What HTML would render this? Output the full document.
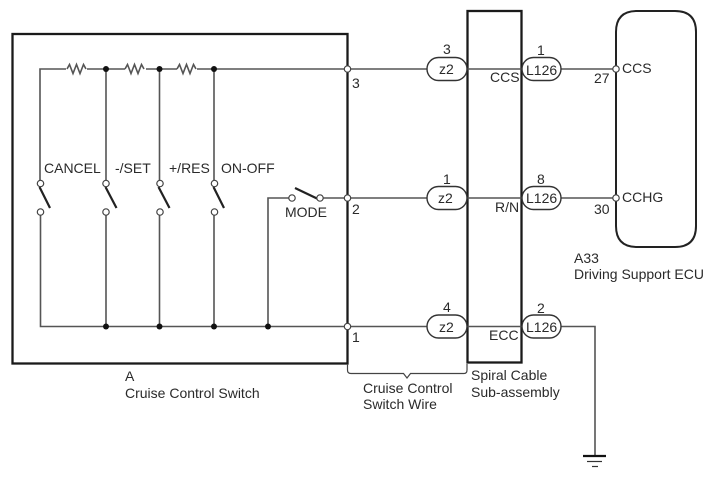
<!DOCTYPE html>
<html><head><meta charset="utf-8"><style>
html,body{margin:0;padding:0;background:#fff;width:713px;height:481px;overflow:hidden}
svg{display:block}
text{font-family:"Liberation Sans",Arial,sans-serif;font-size:14px;fill:#2a2a2a}
.w{stroke:#555;stroke-width:1.6;fill:none}
.t{stroke:#1a1a1a;stroke-width:2.3;fill:none}
.e{stroke:#222;stroke-width:2;fill:none}
.b{stroke:#222;stroke-width:2.2;fill:none}
.o{fill:#fff;stroke:#444;stroke-width:1.2}
.d{fill:#111}
.p{fill:#fff;stroke:#333;stroke-width:1.4}
</style></head><body>
<svg width="713" height="481" viewBox="0 0 713 481" xmlns="http://www.w3.org/2000/svg">
<rect x="12.500" y="34" width="335" height="329.500" class="t"/>
<rect x="467.500" y="11" width="54" height="351.500" class="t"/>
<path d="M616 32 Q616 11 637 11 H675 Q696 11 696 32 V226 Q696 247 675 247 H637 Q616 247 616 226 Z" class="e"/>

<path class="w" d="M40 187 V69 H66 M87 69 H125 M146 69 H177 M197 69 H616"/>
<path class="w" d="M67 69 l2.500 -4.500 l3.500 9 l3.500 -9 l3.500 9 l3.500 -9 l2.500 4.500" stroke-width="1.2"/>
<path class="w" d="M125 69 l2.500 -4.500 l3.500 9 l3.500 -9 l3.500 9 l3.500 -9 l2.500 4.500" stroke-width="1.2"/>
<path class="w" d="M177 69 l2.500 -4.500 l3.500 9 l3.500 -9 l3.500 9 l3.500 -9 l2.500 4.500" stroke-width="1.2"/>
<path class="w" d="M106 69 V180 M159.500 69 V180 M214 69 V180"/>
<path class="w" d="M40.500 215 V326.500 H467 M106 215 V326.500 M159.500 215 V326.500 M214 215 V326.500"/>
<path class="w" d="M268 326.500 V198 H289 M323 198 H616"/>
<path class="w" d="M467 326.500 H522 M561 326.500 H595 V456"/>

<path class="b" d="M39.500 187 L50 208 M105.500 187 L116.500 208 M158.500 187 L169.500 208 M213.500 187 L224 208"/>
<path class="b" d="M295 188 L318 199"/>

<g class="o">
<circle cx="40.500" cy="183.500" r="3.200"/><circle cx="106" cy="183.500" r="3.200"/><circle cx="160" cy="183.500" r="3.200"/><circle cx="214.500" cy="183.500" r="3.200"/>
<circle cx="40.500" cy="212" r="3.200"/><circle cx="106" cy="212" r="3.200"/><circle cx="160" cy="212" r="3.200"/><circle cx="214.500" cy="212" r="3.200"/>
<circle cx="292" cy="198" r="3.200"/><circle cx="320" cy="198" r="3.200"/>
<circle cx="347.500" cy="69" r="3.200"/><circle cx="347.500" cy="198" r="3.200"/><circle cx="347.500" cy="326.500" r="3.200"/>
<circle cx="616" cy="69" r="3.200"/><circle cx="616" cy="198" r="3.200"/>
</g>
<g class="d">
<circle cx="106" cy="69" r="3"/><circle cx="159.500" cy="69" r="3"/><circle cx="214" cy="69" r="3"/>
<circle cx="106" cy="326.500" r="3"/><circle cx="159.500" cy="326.500" r="3"/><circle cx="214" cy="326.500" r="3"/><circle cx="268" cy="326.500" r="3"/>
</g>

<g class="p">
<rect x="427" y="57.500" width="40" height="23" rx="11.500"/>
<rect x="427" y="186.500" width="40" height="23" rx="11.500"/>
<rect x="427" y="315" width="40" height="23" rx="11.500"/>
<rect x="522" y="57.500" width="39" height="23" rx="11.500"/>
<rect x="522" y="186.500" width="39" height="23" rx="11.500"/>
<rect x="522" y="315" width="39" height="23" rx="11.500"/>
</g>

<path d="M583 456 H606" stroke="#111" stroke-width="2.200"/>
<path d="M587 461.500 H602" stroke="#333" stroke-width="1.200"/>
<path d="M592 466.500 H598" stroke="#333" stroke-width="1.200"/>
<path d="M347.500 364 V370 Q347.500 373.500 351 373.500 H403.500 L407 378 L410.500 373.500 H464 Q467 373.500 467 370 V364" fill="none" stroke="#444" stroke-width="1.200"/>

<text x="44" y="173">CANCEL</text>
<text x="115" y="173">-/SET</text>
<text x="169" y="173">+/RES</text>
<text x="221" y="173">ON-OFF</text>
<text x="285" y="217">MODE</text>
<text x="352" y="88">3</text>
<text x="352" y="214">2</text>
<text x="352" y="342">1</text>
<text x="443" y="54">3</text>
<text x="443" y="184">1</text>
<text x="443" y="312">4</text>
<text x="439" y="74">z2</text>
<text x="438" y="203">z2</text>
<text x="439" y="332">z2</text>
<text x="490" y="82">CCS</text>
<text x="495" y="212">R/N</text>
<text x="489" y="340">ECC</text>
<text x="537" y="55">1</text>
<text x="537" y="184">8</text>
<text x="537" y="313">2</text>
<text x="526" y="75">L126</text>
<text x="526" y="203">L126</text>
<text x="526" y="332">L126</text>
<text x="594" y="83">27</text>
<text x="594" y="214">30</text>
<text x="622" y="73">CCS</text>
<text x="622" y="202">CCHG</text>
<text x="574" y="263">A33</text>
<text x="574" y="279">Driving Support ECU</text>
<text x="125" y="381">A</text>
<text x="125" y="398">Cruise Control Switch</text>
<text x="363" y="393">Cruise Control</text>
<text x="363" y="409">Switch Wire</text>
<text x="471" y="380">Spiral Cable</text>
<text x="471" y="397">Sub-assembly</text>
</svg>
</body></html>
